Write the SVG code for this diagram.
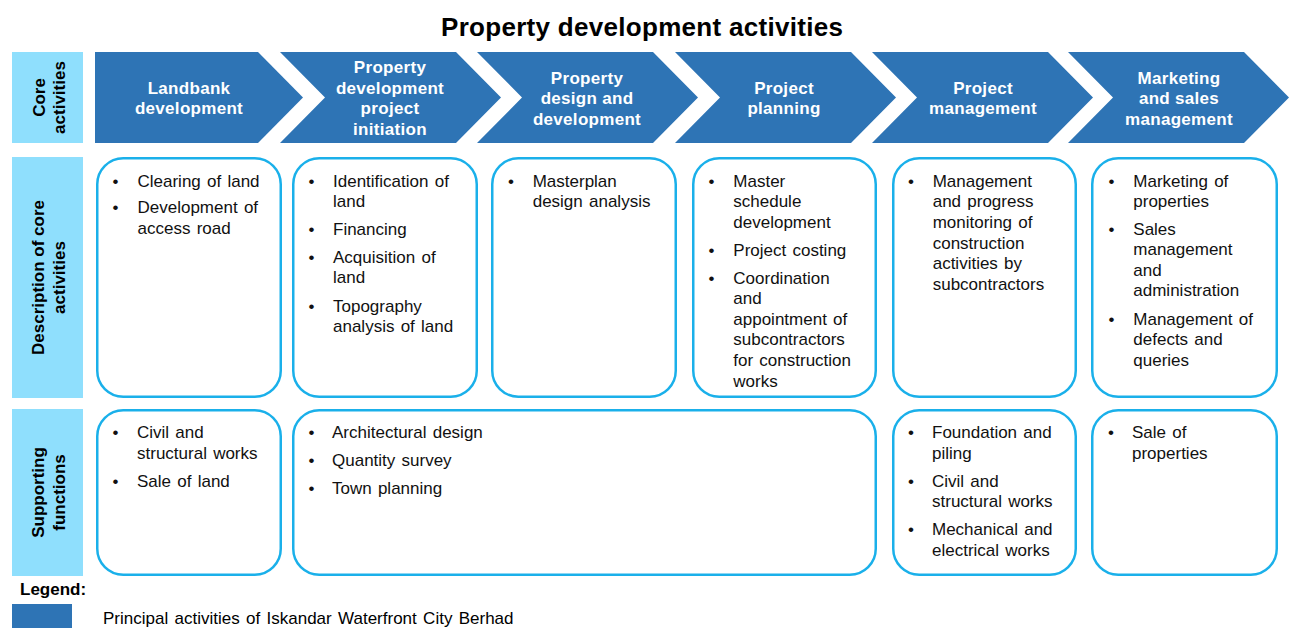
<svg xmlns="http://www.w3.org/2000/svg" width="1291" height="628" viewBox="0 0 1291 628">
  <style>
    .title { font-family: "Liberation Sans", Arial, sans-serif; font-size: 26px; font-weight: bold; fill: #000; }
    .chev { fill: #2E74B5; }
    .chev-text { font-family: "Liberation Sans", Arial, sans-serif; font-size: 17px; font-weight: bold; fill: #fff; text-anchor: middle; letter-spacing: 0.3px; }
    .side { fill: #8FDFFD; }
    .side-text { font-family: "Liberation Sans", Arial, sans-serif; font-size: 17px; font-weight: bold; fill: #000; text-anchor: middle; }
    .card { fill: #fff; stroke: #1AB0EA; stroke-width: 2.5; }
    .body { font-family: "Liberation Sans", Arial, sans-serif; font-size: 17px; fill: #111; word-spacing: 1.5px; }
    .legend { font-family: "Liberation Sans", Arial, sans-serif; font-size: 17px; fill: #000; word-spacing: 1.6px; }
  </style>

  <rect width="1291" height="628" fill="#fff"/>

  <text class="title" x="642" y="35.5" text-anchor="middle" textLength="402" lengthAdjust="spacing">Property development activities</text>

  <!-- Row labels -->
  <g id="label-core">
    <rect class="side" x="12" y="52" width="71" height="91"/>
    <g transform="translate(47,97.5) rotate(-90)">
      <text class="side-text" x="0" y="-2">Core</text>
      <text class="side-text" x="0" y="18">activities</text>
    </g>
  </g>
  <g id="label-description">
    <rect class="side" x="12" y="157" width="71" height="241"/>
    <g transform="translate(47,277.5) rotate(-90)">
      <text class="side-text" x="0" y="-3">Description of core</text>
      <text class="side-text" x="0" y="18">activities</text>
    </g>
  </g>
  <g id="label-supporting">
    <rect class="side" x="12" y="409" width="71" height="167"/>
    <g transform="translate(47,492.5) rotate(-90)">
      <text class="side-text" x="0" y="-3">Supporting</text>
      <text class="side-text" x="0" y="18">functions</text>
    </g>
  </g>

  <!-- Core activity chevrons -->
  <g id="chevron-landbank">
    <path class="chev" d="M95,52 H258 L303,97.5 L258,143 H95 Z"/>
    <text class="chev-text" x="189" y="93.5">Landbank</text>
    <text class="chev-text" x="189" y="114">development</text>
  </g>
  <g id="chevron-initiation">
    <path class="chev" d="M280,52 H456 L501,97.5 L456,143 H280 L325,97.5 Z"/>
    <text class="chev-text" x="390" y="73.3">Property</text>
    <text class="chev-text" x="390" y="93.8">development</text>
    <text class="chev-text" x="390" y="114.3">project</text>
    <text class="chev-text" x="390" y="134.8">initiation</text>
  </g>
  <g id="chevron-design">
    <path class="chev" d="M477,52 H653 L698,97.5 L653,143 H477 L522,97.5 Z"/>
    <text class="chev-text" x="587" y="83.5">Property</text>
    <text class="chev-text" x="587" y="104">design and</text>
    <text class="chev-text" x="587" y="124.5">development</text>
  </g>
  <g id="chevron-planning">
    <path class="chev" d="M675,52 H851 L896,97.5 L851,143 H675 L720,97.5 Z"/>
    <text class="chev-text" x="784" y="93.5">Project</text>
    <text class="chev-text" x="784" y="114">planning</text>
  </g>
  <g id="chevron-management">
    <path class="chev" d="M872,52 H1048 L1093,97.5 L1048,143 H872 L917,97.5 Z"/>
    <text class="chev-text" x="983" y="93.5">Project</text>
    <text class="chev-text" x="983" y="114">management</text>
  </g>
  <g id="chevron-marketing">
    <path class="chev" d="M1068,52 H1244 L1289,97.5 L1244,143 H1068 L1113,97.5 Z"/>
    <text class="chev-text" x="1179" y="83.5">Marketing</text>
    <text class="chev-text" x="1179" y="104">and sales</text>
    <text class="chev-text" x="1179" y="124.5">management</text>
  </g>

  <!-- Description cards -->
  <g id="desc-landbank">
    <rect class="card" x="97.25" y="158.25" width="183.5" height="238.5" rx="26"/>
    <text class="body" x="112.5" y="186.7">•</text>
    <text class="body" x="137.5" y="186.7">Clearing of land</text>
    <text class="body" x="112.5" y="213">•</text>
    <text class="body" x="137.5" y="213">Development of</text>
    <text class="body" x="137.5" y="234">access road</text>
  </g>
  <g id="desc-initiation">
    <rect class="card" x="293.25" y="158.25" width="183.5" height="238.5" rx="26"/>
    <text class="body" x="308.5" y="186.7">•</text>
    <text class="body" x="333" y="186.7">Identification of</text>
    <text class="body" x="333" y="207">land</text>
    <text class="body" x="308.5" y="235">•</text>
    <text class="body" x="333" y="235">Financing</text>
    <text class="body" x="308.5" y="262.7">•</text>
    <text class="body" x="333" y="262.7">Acquisition of</text>
    <text class="body" x="333" y="283">land</text>
    <text class="body" x="308.5" y="311.5">•</text>
    <text class="body" x="333" y="311.5">Topography</text>
    <text class="body" x="333" y="332">analysis of land</text>
  </g>
  <g id="desc-design">
    <rect class="card" x="492.25" y="158.25" width="183.5" height="238.5" rx="26"/>
    <text class="body" x="508" y="186.7">•</text>
    <text class="body" x="532.7" y="186.7">Masterplan</text>
    <text class="body" x="532.7" y="207">design analysis</text>
  </g>
  <g id="desc-planning">
    <rect class="card" x="693.25" y="158.25" width="182.5" height="238.5" rx="26"/>
    <text class="body" x="708.5" y="186.7">•</text>
    <text class="body" x="733.3" y="186.7">Master</text>
    <text class="body" x="733.3" y="207.3">schedule</text>
    <text class="body" x="733.3" y="228">development</text>
    <text class="body" x="708.5" y="256">•</text>
    <text class="body" x="733.3" y="256">Project costing</text>
    <text class="body" x="708.5" y="283.5">•</text>
    <text class="body" x="733.3" y="283.5">Coordination</text>
    <text class="body" x="733.3" y="304">and</text>
    <text class="body" x="733.3" y="324.7">appointment of</text>
    <text class="body" x="733.3" y="345.3">subcontractors</text>
    <text class="body" x="733.3" y="366">for construction</text>
    <text class="body" x="733.3" y="386.7">works</text>
  </g>
  <g id="desc-management">
    <rect class="card" x="893.25" y="158.25" width="182.5" height="238.5" rx="26"/>
    <text class="body" x="908" y="186.7">•</text>
    <text class="body" x="932.7" y="186.7">Management</text>
    <text class="body" x="932.7" y="207">and progress</text>
    <text class="body" x="932.7" y="227.7">monitoring of</text>
    <text class="body" x="932.7" y="248.7">construction</text>
    <text class="body" x="932.7" y="269.3">activities by</text>
    <text class="body" x="932.7" y="290">subcontractors</text>
  </g>
  <g id="desc-marketing">
    <rect class="card" x="1092.25" y="158.25" width="184.5" height="238.5" rx="26"/>
    <text class="body" x="1108.5" y="186.7">•</text>
    <text class="body" x="1133.3" y="186.7">Marketing of</text>
    <text class="body" x="1133.3" y="207.3">properties</text>
    <text class="body" x="1108.5" y="234.5">•</text>
    <text class="body" x="1133.3" y="234.5">Sales</text>
    <text class="body" x="1133.3" y="255">management</text>
    <text class="body" x="1133.3" y="275.7">and</text>
    <text class="body" x="1133.3" y="296.3">administration</text>
    <text class="body" x="1108.5" y="324.7">•</text>
    <text class="body" x="1133.3" y="324.7">Management of</text>
    <text class="body" x="1133.3" y="345.3">defects and</text>
    <text class="body" x="1133.3" y="366">queries</text>
  </g>

  <!-- Supporting function cards -->
  <g id="support-landbank">
    <rect class="card" x="97.25" y="410.25" width="183.5" height="164.5" rx="26"/>
    <text class="body" x="112.5" y="438.3">•</text>
    <text class="body" x="137" y="438.3">Civil and</text>
    <text class="body" x="137" y="459">structural works</text>
    <text class="body" x="112.5" y="486.7">•</text>
    <text class="body" x="137" y="486.7">Sale of land</text>
  </g>
  <g id="support-design">
    <rect class="card" x="293.25" y="410.25" width="582.5" height="164.5" rx="26"/>
    <text class="body" x="308.5" y="438.3">•</text>
    <text class="body" x="332" y="438.3">Architectural design</text>
    <text class="body" x="308.5" y="466">•</text>
    <text class="body" x="332" y="466">Quantity survey</text>
    <text class="body" x="308.5" y="493.7">•</text>
    <text class="body" x="332" y="493.7">Town planning</text>
  </g>
  <g id="support-management">
    <rect class="card" x="893.25" y="410.25" width="182.5" height="164.5" rx="26"/>
    <text class="body" x="908" y="438.3">•</text>
    <text class="body" x="932" y="438.3">Foundation and</text>
    <text class="body" x="932" y="459">piling</text>
    <text class="body" x="908" y="486.7">•</text>
    <text class="body" x="932" y="486.7">Civil and</text>
    <text class="body" x="932" y="507.3">structural works</text>
    <text class="body" x="908" y="535">•</text>
    <text class="body" x="932" y="535">Mechanical and</text>
    <text class="body" x="932" y="555.7">electrical works</text>
  </g>
  <g id="support-marketing">
    <rect class="card" x="1092.25" y="410.25" width="184.5" height="164.5" rx="26"/>
    <text class="body" x="1108" y="438.3">•</text>
    <text class="body" x="1132" y="438.3">Sale of</text>
    <text class="body" x="1132" y="459">properties</text>
  </g>

  <!-- no connectors besides the chevron sequence -->
  <g id="connectors"/>

  <!-- Legend -->
  <g id="legend">
    <text class="legend" x="20" y="595" font-weight="bold">Legend:</text>
    <rect x="12" y="604" width="60" height="24" fill="#2E74B5"/>
    <text class="legend" x="103" y="623.5">Principal activities of Iskandar Waterfront City Berhad</text>
  </g>
</svg>
